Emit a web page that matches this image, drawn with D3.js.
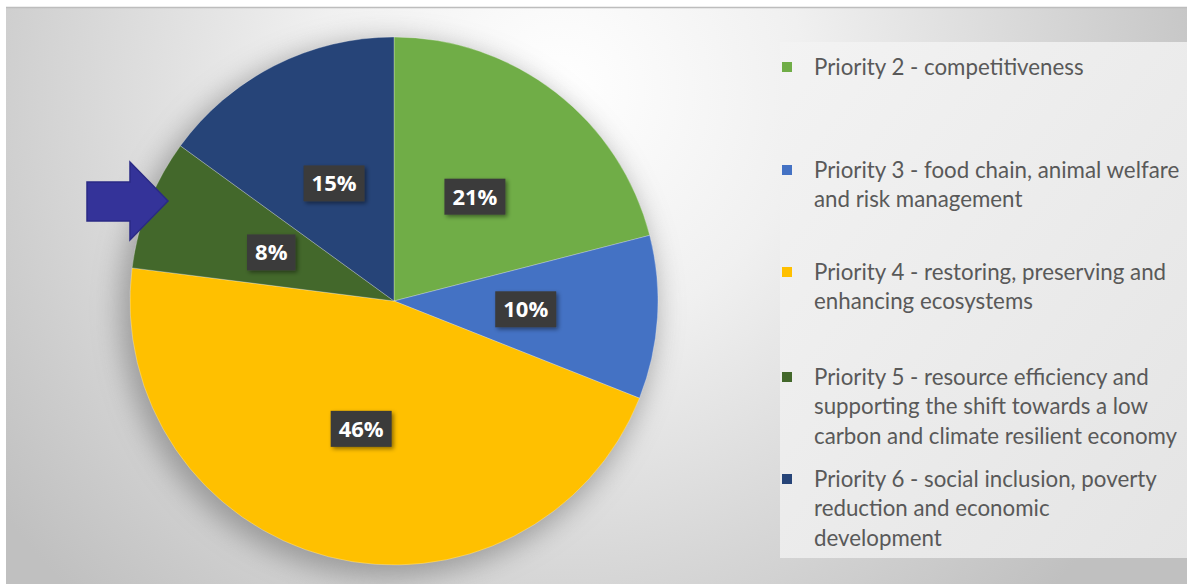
<!DOCTYPE html>
<html>
  <head>
    <meta charset="utf-8" />
    <title>Priorities pie</title>
    <script src="https://d3js.org/d3.v7.min.js"></script>
    <style>
      body { margin: 0; background: #fff; }
      svg { display: block; }
    </style>
  </head>
  <body>
    <div id="chart"></div>
    <script>
      // data
      var categories = ["Priority 2", "Priority 3", "Priority 4", "Priority 5", "Priority 6"];
      var shares = [21, 10, 46, 8, 15];
      var legendLines = [
        ["Priority 2 - competitiveness"],
        ["Priority 3 - food chain, animal welfare", "and risk management"],
        ["Priority 4 - restoring, preserving and", "enhancing ecosystems"],
        ["Priority 5 - resource efficiency and", "supporting the shift towards a low", "carbon and climate resilient economy"],
        ["Priority 6 - social inclusion, poverty", "reduction and economic", "development"]
      ];
      var colors = ["#70ad47", "#4472c4", "#ffc000", "#43682b", "#264478"];
      var legendY = [67, 170, 272, 377, 479];

      var width = 1187, height = 584;
      var svg = d3.select("#chart").append("svg")
        .attr("width", width).attr("height", height);

      var defs = svg.append("defs");
      var bg = defs.append("radialGradient").attr("id", "bg")
        .attr("gradientUnits", "userSpaceOnUse")
        .attr("cx", 560).attr("cy", 90).attr("r", 700);
      bg.append("stop").attr("offset", "0%").attr("stop-color", "#ffffff");
      bg.append("stop").attr("offset", "35%").attr("stop-color", "#f0f0f0");
      bg.append("stop").attr("offset", "100%").attr("stop-color", "#c0c0c0");

      var lg = defs.append("linearGradient").attr("id", "lg")
        .attr("x1", 0).attr("y1", 0).attr("x2", 1).attr("y2", 1);
      lg.append("stop").attr("offset", "0%").attr("stop-color", "#f3f3f3");
      lg.append("stop").attr("offset", "100%").attr("stop-color", "#e4e4e4");

      var sh = defs.append("filter").attr("id", "pieShadow")
        .attr("x", "-20%").attr("y", "-20%").attr("width", "140%").attr("height", "140%");
      sh.append("feGaussianBlur").attr("stdDeviation", 14);

      var bs = defs.append("filter").attr("id", "boxShadow")
        .attr("x", "-30%").attr("y", "-30%").attr("width", "160%").attr("height", "160%");
      bs.append("feDropShadow").attr("dx", 2).attr("dy", 2).attr("stdDeviation", 2)
        .attr("flood-color", "#000").attr("flood-opacity", 0.45);

      // background panel
      svg.append("rect").attr("x", 6).attr("y", 7).attr("width", width - 6).attr("height", height - 7)
        .attr("fill", "url(#bg)");
      svg.append("line").attr("x1", 6).attr("x2", width).attr("y1", 7.5).attr("y2", 7.5)
        .attr("stroke", "#bdbdbd").attr("stroke-width", 1.5);

      // legend panel
      svg.append("rect").attr("x", 780).attr("y", 42).attr("width", width - 780).attr("height", 516)
        .attr("fill", "url(#lg)");

      // pie
      var cx = 394, cy = 301, r = 264;
      var pie = d3.pie().sort(null).value(function (d) { return d; });
      var arcs = pie(shares);
      var arc = d3.arc().innerRadius(0).outerRadius(r);
      var labelArc = d3.arc().innerRadius(r * 0.5).outerRadius(r * 0.5);

      var g = svg.append("g").attr("transform", "translate(" + cx + "," + cy + ")");
      g.append("circle").attr("cx", -6).attr("cy", 8).attr("r", r + 4)
        .attr("fill", "#6a6a6a").attr("opacity", 0.55).attr("filter", "url(#pieShadow)");

      g.selectAll("path.slice").data(arcs).enter().append("path")
        .attr("class", "slice")
        .attr("d", arc)
        .attr("fill", function (d, i) { return colors[i]; })
        .attr("stroke", "rgba(255,255,255,0.35)")
        .attr("stroke-width", 0.8);

      var labels = g.selectAll("g.lab").data(arcs).enter().append("g")
        .attr("class", "lab")
        .attr("transform", function (d) {
          var c = labelArc.centroid(d);
          return "translate(" + c[0] + "," + c[1] + ")";
        });
      labels.append("rect").attr("fill", "#3b3b3b").attr("filter", "url(#boxShadow)");
      labels.append("text")
        .attr("text-anchor", "middle")
        .attr("dy", "0.36em")
        .attr("fill", "#ffffff")
        .style("font-family", "'Open Sans', sans-serif")
        .style("font-weight", 700)
        .style("font-size", "22px")
        .text(function (d, i) { return shares[i] + "%"; });
      labels.each(function () {
        var t = d3.select(this).select("text").node().getComputedTextLength();
        d3.select(this).select("rect")
          .attr("x", -t / 2 - 8).attr("y", -18).attr("width", t + 16).attr("height", 36);
      });

      // arrow pointing at Priority 5
      svg.append("path")
        .attr("d", "M87,182 L130,182 L130,162 L168,201 L130,240 L130,221 L87,221 Z")
        .attr("fill", "#343399").attr("stroke", "#2a2a85").attr("stroke-width", 1.5);

      // legend
      var leg = svg.append("g");
      var items = leg.selectAll("g.item").data(categories).enter().append("g")
        .attr("class", "item")
        .attr("transform", function (d, i) { return "translate(782," + legendY[i] + ")"; });
      items.append("rect").attr("x", 0).attr("y", -5).attr("width", 10).attr("height", 10)
        .attr("fill", function (d, i) { return colors[i]; });
      items.append("text")
        .attr("fill", "#595959")
        .style("font-family", "Lato, sans-serif")
        .style("font-size", "22.3px")
        .each(function (d, i) {
          var t = d3.select(this);
          legendLines[i].forEach(function (line, k) {
            t.append("tspan").attr("x", 32).attr("y", k * 29.5).attr("dy", "0.35em").text(line);
          });
        });
    </script>
  </body>
</html>
